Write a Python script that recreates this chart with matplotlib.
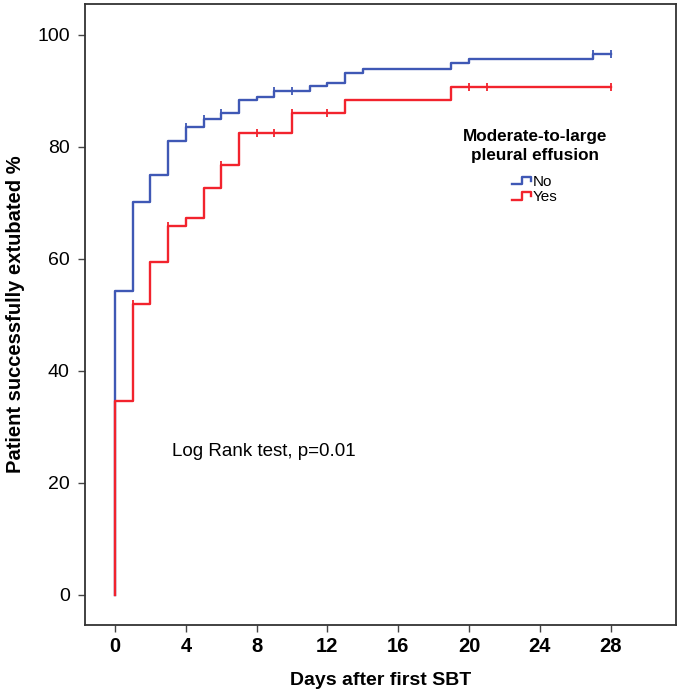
import matplotlib
matplotlib.use("Agg")
import matplotlib.pyplot as plt
from matplotlib.lines import Line2D
from matplotlib.legend_handler import HandlerBase
import numpy as np

# Kaplan-Meier step data (days, % extubated)
no_times = [0, 0, 1, 2, 3, 4, 5, 6, 7, 8, 9, 11, 12, 13, 14, 19, 20, 27, 28]
no_values = [0, 54.3, 70.2, 75.0, 81.0, 83.5, 84.9, 86.1, 88.3, 89.0, 89.9,
             90.9, 91.5, 93.2, 94.0, 94.9, 95.7, 96.6, 96.6]
no_censor = [4, 5, 6, 9, 10, 27, 28]

yes_times = [0, 0, 1, 2, 3, 4, 5, 6, 7, 10, 13, 19, 28]
yes_values = [0, 34.6, 52.0, 59.5, 65.9, 67.3, 72.6, 76.8, 82.4, 86.1, 88.4, 90.7, 90.7]
yes_censor = [1, 3, 6, 8, 9, 10, 12, 20, 21, 28]

x_ticks = [0, 4, 8, 12, 16, 20, 24, 28]
y_ticks = [0, 20, 40, 60, 80, 100]

blue = "#3F58B5"
red = "#F2232D"

plt.rcParams['font.family'] = ['Liberation Sans', 'DejaVu Sans']


def level_at(times, values, t):
    idx = np.searchsorted(np.array(times), t, side="right") - 1
    return values[idx]


class StepHandler(HandlerBase):
    # small step-shaped legend icon
    def create_artists(self, legend, orig_handle, xdescent, ydescent,
                       width, height, fontsize, trans):
        xs = np.array([0.0, 0.5, 0.5, 0.95, 0.95]) * width - xdescent
        ys = np.array([0.1, 0.1, 0.8, 0.8, 0.4]) * height - ydescent
        line = Line2D(xs, ys, color=orig_handle.get_color(),
                      linewidth=orig_handle.get_linewidth(), transform=trans)
        return [line]


fig = plt.figure(figsize=(6.85, 6.95), dpi=100)
ax = fig.add_axes([0.124, 0.101, 0.863, 0.893])

for times, values, censor, color, label in [
        (no_times, no_values, no_censor, blue, "No"),
        (yes_times, yes_values, yes_censor, red, "Yes")]:
    ax.step(times, values, where="post", color=color, linewidth=1.7, label=label)
    cy = [level_at(times, values, t) for t in censor]
    ax.plot(censor, cy, linestyle="none", marker="|", markersize=6,
            markeredgewidth=1.3, color=color)

ax.set_xlim(-1.7, 31.7)
ax.set_ylim(-5.4, 105.5)
ax.set_xticks(x_ticks)
ax.set_yticks(y_ticks)
ax.set_xticklabels([str(t) for t in x_ticks], fontsize=14.5, fontweight="bold")
ax.set_yticklabels([str(t) for t in y_ticks], fontsize=14)
ax.tick_params(direction="out", length=5, width=1, color="#444444")
ax.tick_params(axis="x", pad=4)
ax.tick_params(axis="y", pad=6)

for s in ax.spines.values():
    s.set_linewidth(1.3)
    s.set_color("#333333")

ax.set_xlabel("Days after first SBT", fontsize=14, fontweight="bold", labelpad=11)
ax.set_ylabel("Patient successfully extubated %", fontsize=14.5, fontweight="bold",
              labelpad=9)

ax.text(8.4, 25.5, "Log Rank test, p=0.01", fontsize=13.5, ha="center", va="center")

ax.text(0.761, 0.771, "Moderate-to-large\npleural effusion", transform=ax.transAxes,
        ha="center", va="center", fontsize=12.3, fontweight="bold", linespacing=1.3)

handles, labels = ax.get_legend_handles_labels()
ax.legend(handles, labels, loc="center", bbox_to_anchor=(0.761, 0.702),
          frameon=False, fontsize=11,
          handler_map={h: StepHandler() for h in handles},
          handlelength=1.3, handletextpad=0.05, labelspacing=0.08)

fig.savefig("out.png", dpi=100)
